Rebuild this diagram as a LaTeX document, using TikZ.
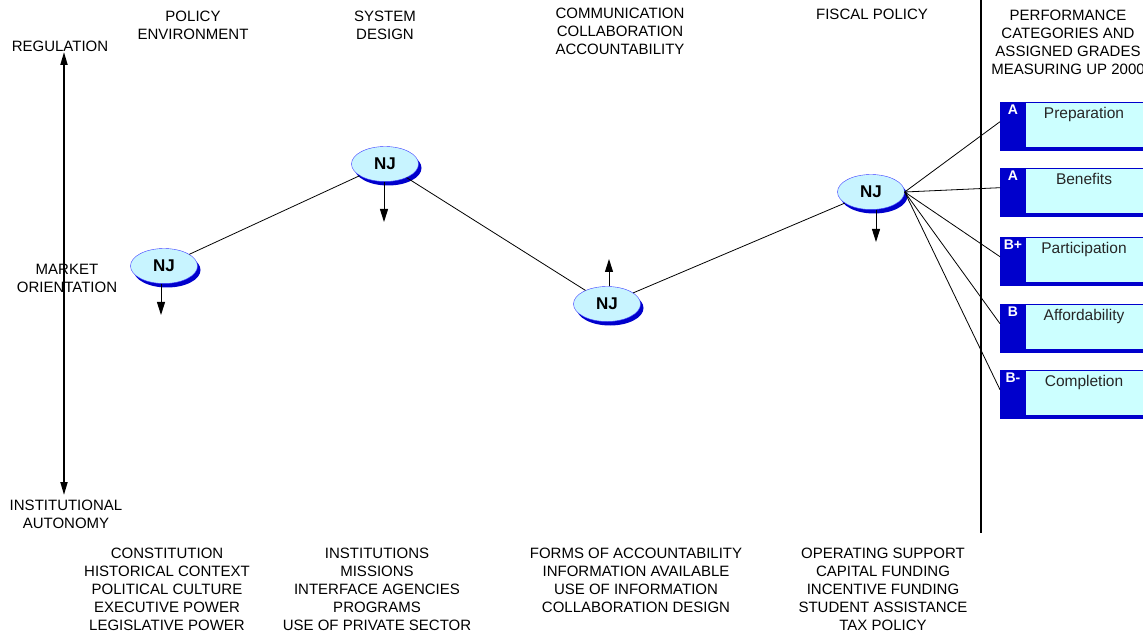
\documentclass[tikz,border=0pt]{standalone}
\usepackage{fontspec}
\setmainfont{Liberation Sans}
\usetikzlibrary{positioning,arrows.meta,shapes.geometric,shadows}

\definecolor{njfill}{RGB}{200,244,255}
\definecolor{njline}{RGB}{60,60,255}
\definecolor{deepblue}{RGB}{0,0,204}
\definecolor{cellcyan}{RGB}{204,255,255}

\begin{document}
\begin{tikzpicture}[x=1pt, y=-1pt, >=Stealth, every node/.style={font=\fontsize{15}{18}\selectfont}]
  % Styles
  \tikzset{
    caption/.style={align=center, inner sep=0pt},
    state/.style={ellipse, draw=njline, fill=njfill, minimum width=67pt, minimum height=35pt, inner sep=0pt,
      font=\fontsize{17}{20}\selectfont\bfseries,
      drop shadow={shadow xshift=3pt, shadow yshift=-4pt, fill=deepblue, opacity=1}},
    catbox/.style={draw=deepblue, fill=cellcyan, minimum width=150pt, minimum height=45pt, inner sep=0pt,
      drop shadow={shadow xshift=0pt, shadow yshift=-4pt, fill=deepblue, opacity=1}},
    gradelbl/.style={text=white, inner sep=0pt, font=\fontsize{14}{16}\selectfont\bfseries},
    catlbl/.style={inner sep=0pt, text=black!85, font=\fontsize{15.5}{18}\selectfont},
    link/.style={line width=0.8pt},
    stub/.style={-{Triangle[length=13pt,width=8pt]}, line width=1pt},
    axis/.style={{Triangle[length=13pt,width=7pt]}-{Triangle[length=13pt,width=7pt]}, line width=1.8pt}
  }

  \useasboundingbox (0,0) rectangle (1143,636);
  \clip (0,0) rectangle (1143,636);

  % Axis labels
  \node[caption] (regulation) at (60,46) {REGULATION};
  \node[caption] (market) at (67,278) {MARKET\\ORIENTATION};
  \node[caption] (autonomy) at (66,514) {INSTITUTIONAL\\AUTONOMY};
  \coordinate (axtop) at (64,52);
  \coordinate (axbot) at (64,495);
  \draw[axis] (axbot) -- (axtop);

  % Column headers
  \node[caption] (hpolicy) at (193,25) {POLICY\\ENVIRONMENT};
  \node[caption] (hsystem) at (385,25) {SYSTEM\\DESIGN};
  \node[caption] (hcomm) at (620,31) {COMMUNICATION\\COLLABORATION\\ACCOUNTABILITY};
  \node[caption] (hfiscal) at (872,14) {FISCAL POLICY};
  \node[caption, anchor=north] (hperf) at (1068,10) {PERFORMANCE\\CATEGORIES AND\\ASSIGNED GRADES\\MEASURING UP 2000};

  % Column footers
  \node[caption, anchor=north] (fpolicy) at (167,548) {CONSTITUTION\\HISTORICAL CONTEXT\\POLITICAL CULTURE\\EXECUTIVE POWER\\LEGISLATIVE POWER};
  \node[caption, anchor=north] (fsystem) at (377,548) {INSTITUTIONS\\MISSIONS\\INTERFACE AGENCIES\\PROGRAMS\\USE OF PRIVATE SECTOR};
  \node[caption, anchor=north] (fcomm) at (636,548) {FORMS OF ACCOUNTABILITY\\INFORMATION AVAILABLE\\USE OF INFORMATION\\COLLABORATION DESIGN};
  \node[caption, anchor=north] (ffiscal) at (883,548) {OPERATING SUPPORT\\CAPITAL FUNDING\\INCENTIVE FUNDING\\STUDENT ASSISTANCE\\TAX POLICY};

  % Divider
  \coordinate (divtop) at (981,0);
  \coordinate (divbot) at (981,533);
  \draw[line width=2pt] (divtop) -- (divbot);

  % NJ positions
  \node[state] (nj1) at (164,266) {NJ};
  \node[state] (nj2) at (385,164) {NJ};
  \node[state] (nj3) at (607,304) {NJ};
  \node[state] (nj4) at (871,192) {NJ};

  \draw[link] (nj1) -- (nj2);
  \draw[link] (nj2) -- (nj3);
  \draw[link] (nj3) -- (nj4);

  % Direction of movement
  \coordinate (nj1tip) at (161,315);
  \coordinate (nj2tip) at (384,222);
  \coordinate (nj3tip) at (609,259);
  \coordinate (nj4tip) at (876,242);
  \draw[stub] (nj1tip |- nj1.south) -- (nj1tip);
  \draw[stub] (nj2tip |- nj2.south) -- (nj2tip);
  \draw[stub] (nj3tip |- nj3.north) -- (nj3tip);
  \draw[stub] (nj4tip |- nj4.south) -- (nj4tip);

  % Performance categories
  \foreach \name/\grade/\txt/\y in {prep/A/Preparation/102, bene/A/Benefits/168, part/B+/Participation/237,
      afford/B/Affordability/304, compl/B-/Completion/370} {
    \node[catbox, anchor=north west] (\name) at (1000,\y) {};
    \fill[deepblue] (\name.north west) rectangle ([xshift=26pt]\name.south west);
    \node[gradelbl, anchor=north] at ([xshift=13pt,yshift=-3pt]\name.north west) {\grade};
    \node[catlbl, anchor=north] at ([xshift=84pt,yshift=-5pt]\name.north west) {\txt};
    \draw[link] (nj4.east) -- ([yshift=3pt]\name.west);
  }
\end{tikzpicture}
\end{document}
